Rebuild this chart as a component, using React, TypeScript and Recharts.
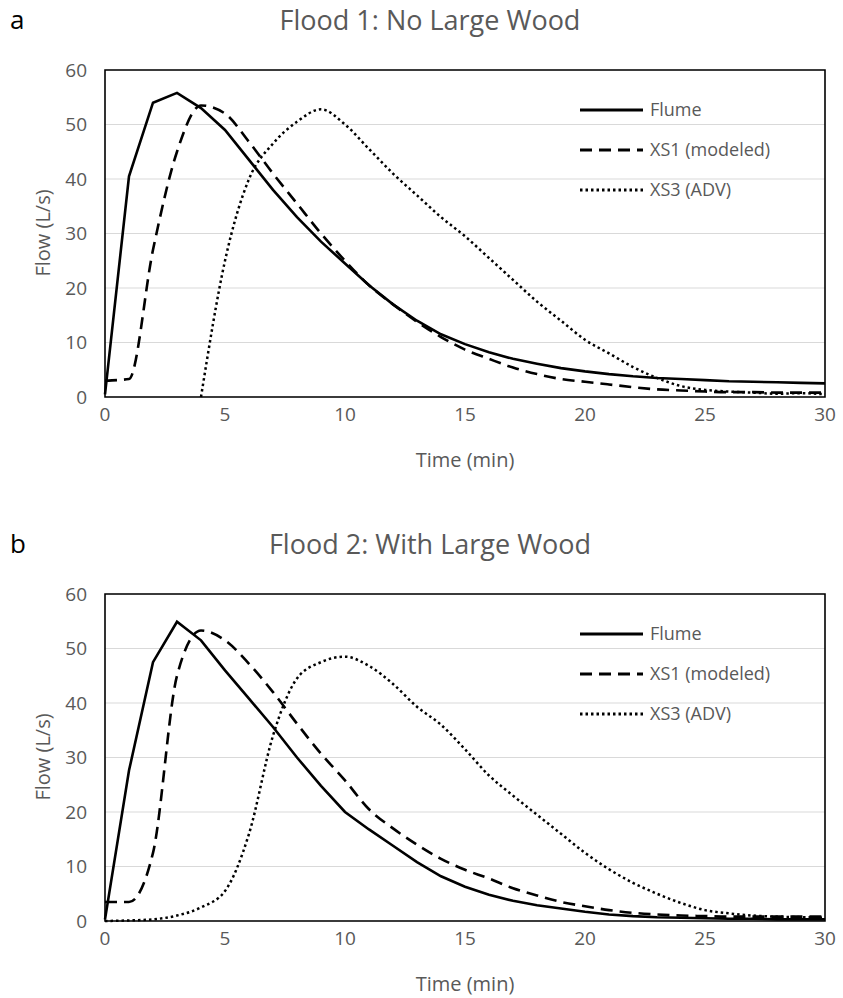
import { LineChart, Line, XAxis, YAxis, CartesianGrid, Legend, ReferenceArea } from 'recharts';

// time in minutes, shared by both floods
const TIME = [0, 1, 2, 3, 4, 5, 6, 7, 8, 9, 10, 11, 12, 13, 14, 15, 16, 17, 18, 19, 20, 21, 22, 23, 24, 25, 26, 27, 28, 29, 30];
const X_TICKS = [0, 5, 10, 15, 20, 25, 30];
const Y_TICKS = [0, 10, 20, 30, 40, 50, 60];

// Flood 1: No Large Wood (L/s)
const FLOOD1_FLUME = [0.5, 40.5, 54, 55.8, 53, 49, 43.5, 38, 33, 28.5, 24.5, 20.5, 17, 14, 11.5, 9.7, 8.2, 7, 6.1, 5.3, 4.7, 4.2, 3.8, 3.5, 3.3, 3.1, 2.9, 2.8, 2.7, 2.6, 2.5];
const FLOOD1_XS1 = [3, 3.3, 27, 45, 53.5, 52, 46.8, 41, 35.5, 30, 25, 20.5, 17, 13.8, 11, 8.7, 7, 5.4, 4.2, 3.3, 2.8, 2.3, 1.8, 1.4, 1.2, 1, 0.9, 0.9, 0.8, 0.8, 0.8];
const FLOOD1_XS3 = [null, null, null, null, 0, 25, 40, 46.5, 50.5, 52.8, 50, 45.5, 41, 37, 33, 29.5, 25.5, 21.5, 17.5, 14, 10.5, 8, 5.5, 3.5, 2, 1.3, 1, 0.8, 0.6, 0.7, 0.5];

// Flood 2: With Large Wood (L/s)
const FLOOD2_FLUME = [0.3, 27.6, 47.5, 54.9, 51.5, 46, 40.8, 35.6, 30, 24.8, 20, 16.8, 13.8, 10.8, 8.2, 6.3, 4.8, 3.7, 2.9, 2.3, 1.7, 1.2, 0.9, 0.7, 0.6, 0.5, 0.4, 0.4, 0.3, 0.3, 0.3];
const FLOOD2_XS1 = [3.5, 3.5, 12.5, 45, 53.3, 51.5, 47.2, 42, 36.2, 30.7, 25.8, 20.5, 17, 14, 11.4, 9.4, 7.8, 6, 4.7, 3.5, 2.7, 2, 1.5, 1.2, 1, 0.9, 0.8, 0.8, 0.8, 0.8, 0.8];
const FLOOD2_XS3 = [0, 0.1, 0.3, 1, 2.5, 5.5, 16, 34, 44.5, 47.5, 48.5, 46.8, 43.5, 39.3, 36, 31.5, 26.7, 23, 19.5, 16, 12.5, 9.5, 7, 5, 3.3, 2, 1.4, 1, 0.8, 0.7, 0.6];

const FONT = '"Open Sans", sans-serif';
const TEXT_GRAY = '#595959';

const SERIES = [
  { key: 'flume', name: 'Flume', dash: undefined as string | undefined, width: 2.6, type: 'linear' },
  { key: 'xs1', name: 'XS1 (modeled)', dash: '12 7', width: 2.6, type: 'monotone' },
  { key: 'xs3', name: 'XS3 (ADV)', dash: '2.5 3', width: 2.5, type: 'monotone' },
];

function buildRows(flume: (number | null)[], xs1: (number | null)[], xs3: (number | null)[]) {
  return TIME.map((t, i) => ({ t, flume: flume[i], xs1: xs1[i], xs3: xs3[i] }));
}

// legend drawn inside the plot, top right, like the Excel original
const renderLegend = () => (
  <svg width={240} height={130} style={{ overflow: 'visible' }}>
    {SERIES.map((s, i) => (
      <g key={s.key} transform={`translate(0, ${i * 40 + 20})`}>
        <line x1={0} y1={0} x2={63} y2={0} stroke="#000" strokeWidth={s.width + 0.4} strokeDasharray={s.dash} />
        <text x={70} y={0} dy="0.35em" fontSize={18} fill={TEXT_GRAY} fontFamily={FONT}>{s.name}</text>
      </g>
    ))}
  </svg>
);

function FloodChart({ title, letter, rows, top }: { title: string; letter: string; rows: any[]; top: number }) {
  return (
    <div style={{ position: 'absolute', left: 0, top, width: 843, height: 480 }}>
      <div style={{ position: 'absolute', left: 10, top: 1, fontSize: 26, fontFamily: FONT, color: '#000' }}>{letter}</div>
      <div style={{ position: 'absolute', left: 0, width: 860, top: 1, textAlign: 'center', fontSize: 27, fontFamily: FONT, color: TEXT_GRAY }}>{title}</div>
      <div style={{ position: 'absolute', left: 465, top: 446, transform: 'translateX(-50%)', fontSize: 20, fontFamily: FONT, color: TEXT_GRAY, whiteSpace: 'nowrap' }}>Time (min)</div>
      <div style={{ position: 'absolute', left: 42, top: 233, transform: 'translate(-50%, -50%) rotate(-90deg)', fontSize: 20, fontFamily: FONT, color: TEXT_GRAY, whiteSpace: 'nowrap' }}>Flow (L/s)</div>
      <LineChart width={843} height={480} data={rows} margin={{ top: 70, right: 18, left: 45, bottom: 53 }}>
        <CartesianGrid horizontal vertical={false} stroke="#d9d9d9" strokeWidth={1.2} />
        <XAxis
          dataKey="t"
          type="number"
          domain={[0, 30]}
          ticks={X_TICKS}
          height={30}
          axisLine={false}
          tickLine={false}
          tickSize={0}
          tickMargin={11}
          tick={{ fill: TEXT_GRAY, fontSize: 19, fontFamily: FONT }}
        />
        <YAxis
          type="number"
          domain={[0, 60]}
          ticks={Y_TICKS}
          width={60}
          axisLine={false}
          tickLine={false}
          tickSize={0}
          tickMargin={18}
          tick={{ fill: TEXT_GRAY, fontSize: 19, fontFamily: FONT }}
        />
        {SERIES.map((s) => (
          <Line
            key={s.key}
            dataKey={s.key}
            name={s.name}
            type={s.type as any}
            stroke="#000"
            strokeWidth={s.width}
            strokeDasharray={s.dash}
            dot={false}
            activeDot={false}
            isAnimationActive={false}
          />
        ))}
        <ReferenceArea x1={0} x2={30} y1={0} y2={60} fill="none" stroke="#000" strokeWidth={1.6} ifOverflow="visible" />
        <Legend
          layout="vertical"
          align="center"
          verticalAlign="middle"
          content={renderLegend}
          wrapperStyle={{ left: 580, top: 90, width: 240, height: 130 }}
        />
      </LineChart>
    </div>
  );
}

export default function App() {
  return (
    <div style={{ position: 'absolute', left: 0, top: 0, width: 843, height: 998, background: '#fff' }}>
      <FloodChart title="Flood 1: No Large Wood" letter="a" rows={buildRows(FLOOD1_FLUME, FLOOD1_XS1, FLOOD1_XS3)} top={0} />
      <FloodChart title="Flood 2: With Large Wood" letter="b" rows={buildRows(FLOOD2_FLUME, FLOOD2_XS1, FLOOD2_XS3)} top={524} />
    </div>
  );
}
